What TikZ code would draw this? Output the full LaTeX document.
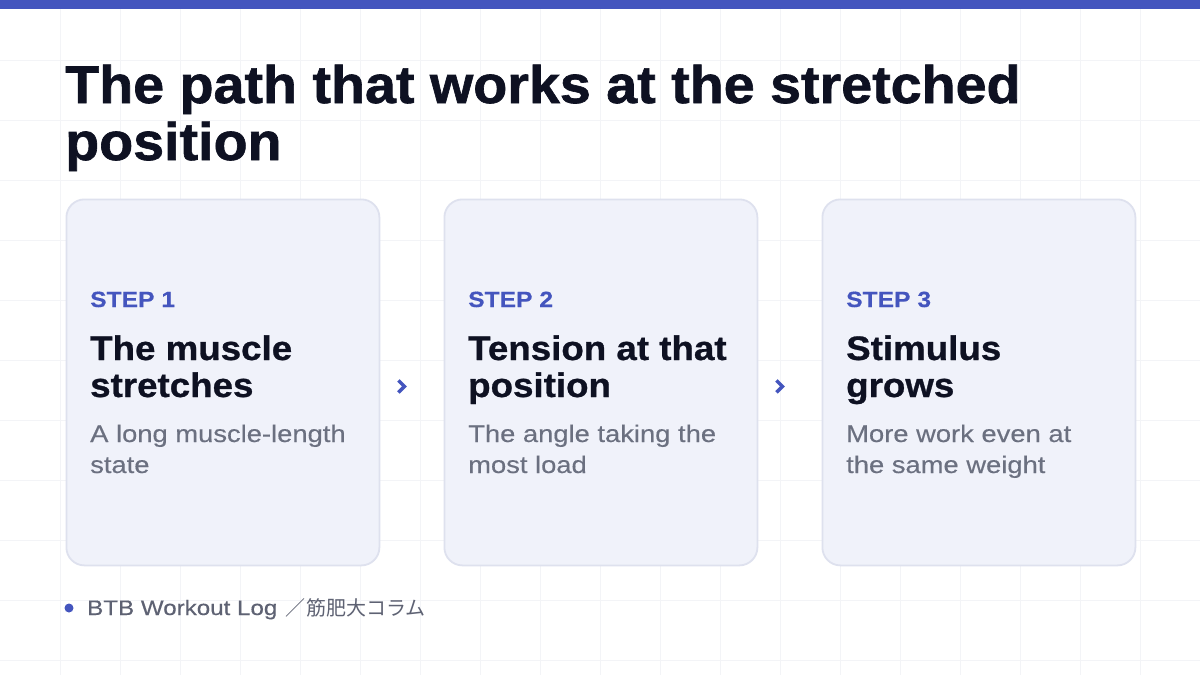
\documentclass[tikz,border=0pt]{standalone}
\usepackage{fontspec}
\setmainfont{Liberation Sans}
\newfontfamily\cjkfont{Noto Sans CJK JP}
\newfontfamily\titlefont{Liberation Sans}[UprightFont={* Bold}, FakeStretch=1.05, FakeBold=1.2]
\newfontfamily\headfont{Liberation Sans}[UprightFont={* Bold}, FakeStretch=1.08, FakeBold=0.8]
\newfontfamily\stepfont{Liberation Sans}[UprightFont={* Bold}, FakeStretch=1.12, FakeBold=0.4]
\newfontfamily\descfont{Liberation Sans}[FakeStretch=1.14, FakeBold=0.3]
\newfontfamily\footfont{Liberation Sans}[FakeStretch=1.15, FakeBold=0.3]
\usetikzlibrary{calc}
\definecolor{accent}{HTML}{4455BE}
\definecolor{ink}{HTML}{0E1122}
\definecolor{muted}{HTML}{6B7080}
\definecolor{footc}{HTML}{5E6273}
\definecolor{cardfill}{HTML}{F0F2FA}
\definecolor{cardline}{HTML}{DEE1EE}
\definecolor{gridc}{HTML}{F3F4F7}
\tikzset{
  x=1pt, y=-1pt,
  card/.style={draw=cardline, line width=1.8pt, fill=cardfill, rounded corners=18pt, minimum width=313pt, minimum height=366pt, anchor=north west, inner sep=0pt},
  steplabel/.style={anchor=base west, inner sep=0pt, text=accent, font=\fontsize{22}{26}\stepfont},
  headline/.style={anchor=base west, inner sep=0pt, text=ink, font=\fontsize{34}{36}\headfont},
  desc/.style={anchor=base west, inner sep=0pt, text=muted, font=\fontsize{24}{30}\descfont},
  titleline/.style={anchor=base west, inner sep=0pt, text=ink, font=\fontsize{53}{57}\titlefont},
  chevron/.style={draw=accent, line width=3.5pt, line join=miter, line cap=butt},
}
\begin{document}
\begin{tikzpicture}
\useasboundingbox (0,0) rectangle (1200,675);
\fill[white] (0,0) rectangle (1200,675);
% grid
\foreach \gx in {60,120,...,1180} \draw[gridc, line width=0.8pt] (\gx,9) -- (\gx,675);
\foreach \gy in {60,120,...,660} \draw[gridc, line width=0.8pt] (0,\gy) -- (1200,\gy);
% top bar
\fill[accent] (0,0) rectangle (1200,9);
% title
\node[titleline] (t1) at (65,103) {The path that works at the stretched};
\node[titleline] (t2) at (65,160) {position};
% cards
\node[card] (c1) at (65.5,198.5) {};
\node[card] (c2) at (443.5,198.5) {};
\node[card] (c3) at (821.5,198.5) {};
% card 1
\node[steplabel] (s1) at (90,307) {STEP 1};
\node[headline] (h1a) at (90,360) {The muscle};
\node[headline] (h1b) at (90,397) {stretches};
\node[desc] (d1a) at (90,442) {A long muscle-length};
\node[desc] (d1b) at (90,473) {state};
% card 2
\node[steplabel] (s2) at (468,307) {STEP 2};
\node[headline] (h2a) at (468,360) {Tension at that};
\node[headline] (h2b) at (468,397) {position};
\node[desc] (d2a) at (468,442) {The angle taking the};
\node[desc] (d2b) at (468,473) {most load};
% card 3
\node[steplabel] (s3) at (846,307) {STEP 3};
\node[headline] (h3a) at (846,360) {Stimulus};
\node[headline] (h3b) at (846,397) {grows};
\node[desc] (d3a) at (846,442) {More work even at};
\node[desc] (d3b) at (846,473) {the same weight};
% chevrons between cards
\coordinate (m12) at ($(c1.east)!0.5!(c2.west)+(-10,4)$);
\coordinate (m23) at ($(c2.east)!0.5!(c3.west)+(-10,4)$);
\draw[chevron] ($(m12)+(-3.5,-6)$) -- ($(m12)+(2.5,0)$) -- ($(m12)+(-3.5,6)$);
\draw[chevron] ($(m23)+(-3.5,-6)$) -- ($(m23)+(2.5,0)$) -- ($(m23)+(-3.5,6)$);
% footer
\fill[accent] (69,608) circle (4.5);
\node[anchor=base west, inner sep=0pt, text=footc, font=\fontsize{21}{24}\footfont] (foot) at (87,615) {BTB Workout Log\hspace{8pt}{\cjkfont\fontsize{20}{24}\selectfont ／\hspace{1pt}筋肥大コラム}};
\end{tikzpicture}
\end{document}
